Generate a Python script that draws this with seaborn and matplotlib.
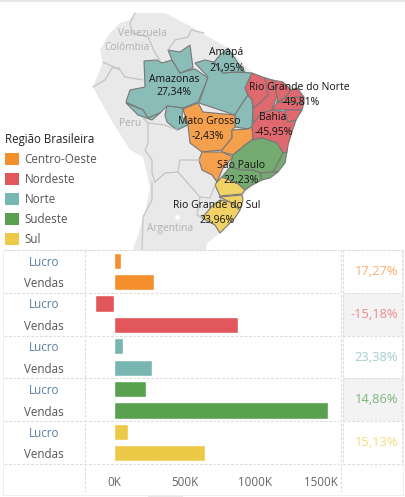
import pandas as pd
import matplotlib
matplotlib.use('Agg')
import matplotlib.pyplot as plt
import seaborn as sns
from matplotlib.patches import Polygon, Patch, Rectangle
from matplotlib.transforms import ScaledTranslation

# data
regioes = ['Centro-Oeste', 'Nordeste', 'Norte', 'Sudeste', 'Sul']
lucro = [49, -133.6, 63, 225.6, 97.6]
vendas = [284, 880, 270, 1518, 645]
margem = ['17,27%', '-15,18%', '23,38%', '14,86%', '15,13%']
cores = ['#f58f2c', '#e1575c', '#78b6b1', '#59a14f', '#edc948']
cores_mapa = ['#f5a04d', '#e0696f', '#8bbdb8', '#75ab70', '#f0d265']
cores_margem = ['#f8ae6c', '#ee8a8c', '#a3cfca', '#7db47a', '#f3dc80']
x_ticks = [0, 500, 1000, 1500]
x_labels = ['0K', '500K', '1000K', '1500K']

# map shapes (pixels)
terra = [(135, 13), (165, 13), (190, 26), (207, 36), (228, 48), (252, 73), (283, 82), (297, 88), (304, 97), (304, 105),
         (296, 120), (292, 132), (287, 152), (278, 172), (262, 180), (245, 192), (240, 210), (220, 233), (207, 243),
         (204, 262), (183, 497), (148, 497), (133, 250), (145, 213), (150, 187), (143, 157), (130, 150), (113, 123),
         (100, 100), (93, 87), (103, 62), (100, 50), (110, 33), (120, 23), (130, 20)]
estados = {
    'Norte': [
        [(126, 102), (130, 90), (145, 87), (144, 61), (157, 60), (162, 63), (172, 60), (180, 73), (195, 69), (208, 78),
         (198, 102), (183, 108), (167, 106), (160, 113), (148, 118), (143, 110)],
        [(126, 103), (143, 110), (148, 118), (160, 113), (152, 120), (138, 115)],
        [(167, 106), (183, 108), (182, 117), (188, 125), (177, 130), (167, 122), (165, 115)],
        [(168, 50), (180, 52), (190, 45), (193, 68), (180, 73), (172, 60)],
        [(195, 63), (205, 60), (214, 62), (223, 73), (235, 72), (252, 73), (245, 88), (248, 95), (238, 110), (235, 115),
         (199, 103), (208, 77)],
        [(214, 62), (220, 55), (228, 48), (238, 63), (245, 72), (235, 72), (223, 73)],
        [(248, 95), (252, 100), (253, 108), (252, 127), (248, 129), (235, 127), (235, 115), (238, 110)],
    ],
    'Centro-Oeste': [
        [(183, 109), (198, 103), (203, 112), (235, 115), (235, 127), (232, 130), (232, 138), (222, 150), (212, 151),
         (202, 152), (190, 143), (188, 125)],
        [(232, 130), (248, 129), (252, 127), (253, 137), (252, 140), (245, 145), (233, 155), (222, 152), (222, 150), (232, 138)],
        [(202, 152), (222, 152), (233, 157), (223, 168), (217, 182), (212, 175), (202, 170), (199, 160)],
    ],
    'Nordeste': [
        [(245, 88), (252, 73), (265, 78), (268, 95), (260, 103), (253, 108), (252, 100), (248, 95)],
        [(265, 78), (272, 80), (277, 95), (272, 110), (262, 113), (253, 123), (253, 108), (260, 103), (268, 95)],
        [(272, 80), (283, 82), (291, 90), (285, 98), (277, 102), (277, 95)],
        [(291, 90), (297, 88), (304, 97), (285, 98)],
        [(285, 98), (304, 97), (304, 103), (277, 102)],
        [(272, 110), (277, 102), (304, 103), (302, 110), (285, 110)],
        [(285, 110), (302, 110), (296, 120), (288, 122), (285, 112)],
        [(253, 123), (262, 113), (272, 110), (285, 112), (288, 122), (296, 120), (292, 132), (288, 145), (287, 152),
         (283, 153), (277, 143), (262, 138), (252, 140), (253, 137), (252, 127)],
    ],
    'Sudeste': [
        [(252, 140), (262, 138), (277, 143), (283, 153), (278, 163), (273, 172), (260, 173), (253, 170), (242, 170),
         (230, 167), (233, 155), (245, 145)],
        [(283, 153), (287, 152), (285, 163), (278, 172), (273, 172), (278, 163)],
        [(260, 173), (273, 172), (278, 172), (270, 178), (262, 180)],
        [(222, 177), (230, 167), (242, 170), (253, 170), (260, 173), (262, 180), (252, 185), (245, 190), (237, 183)],
    ],
    'Sul': [
        [(222, 177), (237, 183), (245, 190), (242, 194), (220, 196), (215, 185), (217, 182)],
        [(219, 197), (242, 195), (243, 200), (240, 210), (230, 202)],
        [(202, 218), (213, 205), (220, 200), (230, 202), (240, 210), (235, 218), (220, 233), (215, 225)],
    ],
}
fronteiras = [
    [(135, 13), (130, 23), (132, 33), (148, 37), (155, 53), (160, 60)],
    [(168, 50), (175, 40), (188, 37), (191, 30), (204, 33)],
    [(103, 62), (120, 70), (125, 77), (143, 80)],
    [(93, 87), (105, 80), (112, 68), (120, 68)],
    [(143, 118), (148, 123), (148, 143), (145, 150), (152, 160), (152, 173), (155, 182)],
    [(155, 182), (165, 173), (178, 172), (180, 160), (200, 160)],
    [(178, 172), (200, 197), (210, 198), (215, 185)],
    [(152, 182), (152, 200), (143, 217), (142, 250)],
    [(200, 197), (197, 215), (202, 218)],
    [(177, 130), (165, 125), (148, 123)],
]
lagos = [[(175, 216), (179, 215), (180, 219), (176, 220)]]
paises = [('Venezuela', 142, 33), ('Colômbia', 127, 47), ('Peru', 130, 124), ('Argentina', 170, 228)]
rotulos = [('Amapá', 226, 53), ('21,95%', 227, 68), ('Amazonas', 174, 79), ('27,34%', 174, 93),
           ('Rio Grande do Norte', 299, 87), ('-49,81%', 301, 102), ('Bahia', 273, 117), ('-45,95%', 274, 132),
           ('Mato Grosso', 209, 121), ('-2,43%', 208, 136), ('São Paulo', 241, 165), ('22,23%', 241, 180),
           ('Rio Grande do Sul', 217, 206), ('23,96%', 217, 221)]

sns.set_theme(style='white')
plt.rcParams['font.family'] = ['Open Sans', 'DejaVu Sans']

largura, altura = 405, 497
fig = plt.figure(figsize=(largura / 100, altura / 100), dpi=100)

# map + legend, axes in pixel coords
ax_mapa = fig.add_axes([0, 0, 1, 1])
ax_mapa.set_xlim(0, largura)
ax_mapa.set_ylim(altura, 0)
ax_mapa.axis('off')
ax_mapa.add_patch(Rectangle((0, 0), largura, 1.5, color='#e6e6e6', lw=0))
ax_mapa.add_patch(Polygon(terra, closed=True, fc='#e9e9e9', ec='none'))
for lago in lagos:
    ax_mapa.add_patch(Polygon(lago, closed=True, fc='white', ec='none'))
for linha in fronteiras:
    ax_mapa.plot(*zip(*linha), color='#c4c4c4', lw=0.9)
for regiao, formas in estados.items():
    cor = cores_mapa[regioes.index(regiao)]
    for forma in formas:
        ax_mapa.add_patch(Polygon(forma, closed=True, fc=cor, ec='#777777', lw=0.8))
for nome, x, y in paises:
    ax_mapa.text(x, y, nome, color='#b0b0b0', fontsize=7.3, ha='center', va='center')
for texto, x, y in rotulos:
    ax_mapa.text(x, y, texto, color='#111111', fontsize=7.5, ha='center', va='center')

handles = [Patch(fc=c, ec='none') for c in cores]
leg = ax_mapa.legend(handles, regioes, title='Região Brasileira', loc='upper left', bbox_to_anchor=(0, 1 - 128 / altura),
                     frameon=False, prop={'size': 8.4}, labelcolor='#555555', handlelength=1.2, handleheight=1.2,
                     handletextpad=0.5, labelspacing=0.6, borderaxespad=0, borderpad=0.4, alignment='left')
leg.get_title().set_fontsize(8.3)
leg.get_title().set_color('#222222')

# white panel behind the table
ax_mapa.add_patch(Rectangle((3, 250), 400, 244.5, fc='white', ec='#ececec', lw=0.6, zorder=5))

# bars
linhas = []
for i, regiao in enumerate(regioes):
    linhas.append({'linha': regiao + ' Lucro', 'medida': 'Lucro', 'regiao': regiao, 'valor': lucro[i]})
    linhas.append({'linha': regiao + ' Vendas', 'medida': 'Vendas', 'regiao': regiao, 'valor': vendas[i]})
df = pd.DataFrame(linhas)

ax = fig.add_axes([84.5 / largura, (altura - 464) / altura, (340 - 84.5) / largura, 214 / altura])
ax.patch.set_alpha(0)
sns.barplot(data=df, y='linha', x='valor', hue='regiao', order=df['linha'], hue_order=regioes,
            palette=dict(zip(regioes, cores)), dodge=False, width=0.75, saturation=1, legend=False, ax=ax)
ax.set_xlim(-209, 1603)
ax.set_xlabel('')
ax.set_ylabel('')
ax.set_xticks(x_ticks)
ax.set_xticklabels(x_labels, color='#666666', fontsize=8.4)
ax.set_yticks(range(len(df)))
ax.set_yticklabels(df['medida'], fontsize=8.4, ha='center')
for rot, medida in zip(ax.get_yticklabels(), df['medida']):
    rot.set_color('#5a7ea0' if medida == 'Lucro' else '#555555')
ax.tick_params(axis='y', length=0, pad=29)
ax.tick_params(axis='x', length=0, pad=9)
rot = ax.get_xticklabels()[-1]
rot.set_transform(rot.get_transform() + ScaledTranslation(-5 / 100, 0, fig.dpi_scale_trans))
for lado in ax.spines.values():
    lado.set_visible(False)

# dashed table lines
estilo = dict(color='#dddddd', lw=0.8, ls=(0, (2.5, 1.5)), zorder=6)
for y in [250, 293, 336, 378, 421, 464]:
    ax_mapa.plot([4, 339], [y, y], **estilo)
    ax_mapa.plot([343, 402], [y, y], **estilo)
for x in [84.5, 340.5]:
    ax_mapa.plot([x, x], [250, 492], **estilo)
for x in [342.5, 402]:
    ax_mapa.plot([x, x], [250, 464], **estilo)

# margin column
topos = [250, 293, 336, 378, 421]
for i, txt in enumerate(margem):
    if i % 2 == 1:
        ax_mapa.add_patch(Rectangle((343, topos[i]), 59, 43, fc='#f3f3f3', ec='none', zorder=5.5))
    ax_mapa.text(398, topos[i] + 21.5, txt, color=cores_margem[i], fontsize=9.3, ha='right', va='center', zorder=7)

fig.savefig('out.png', dpi=100)
